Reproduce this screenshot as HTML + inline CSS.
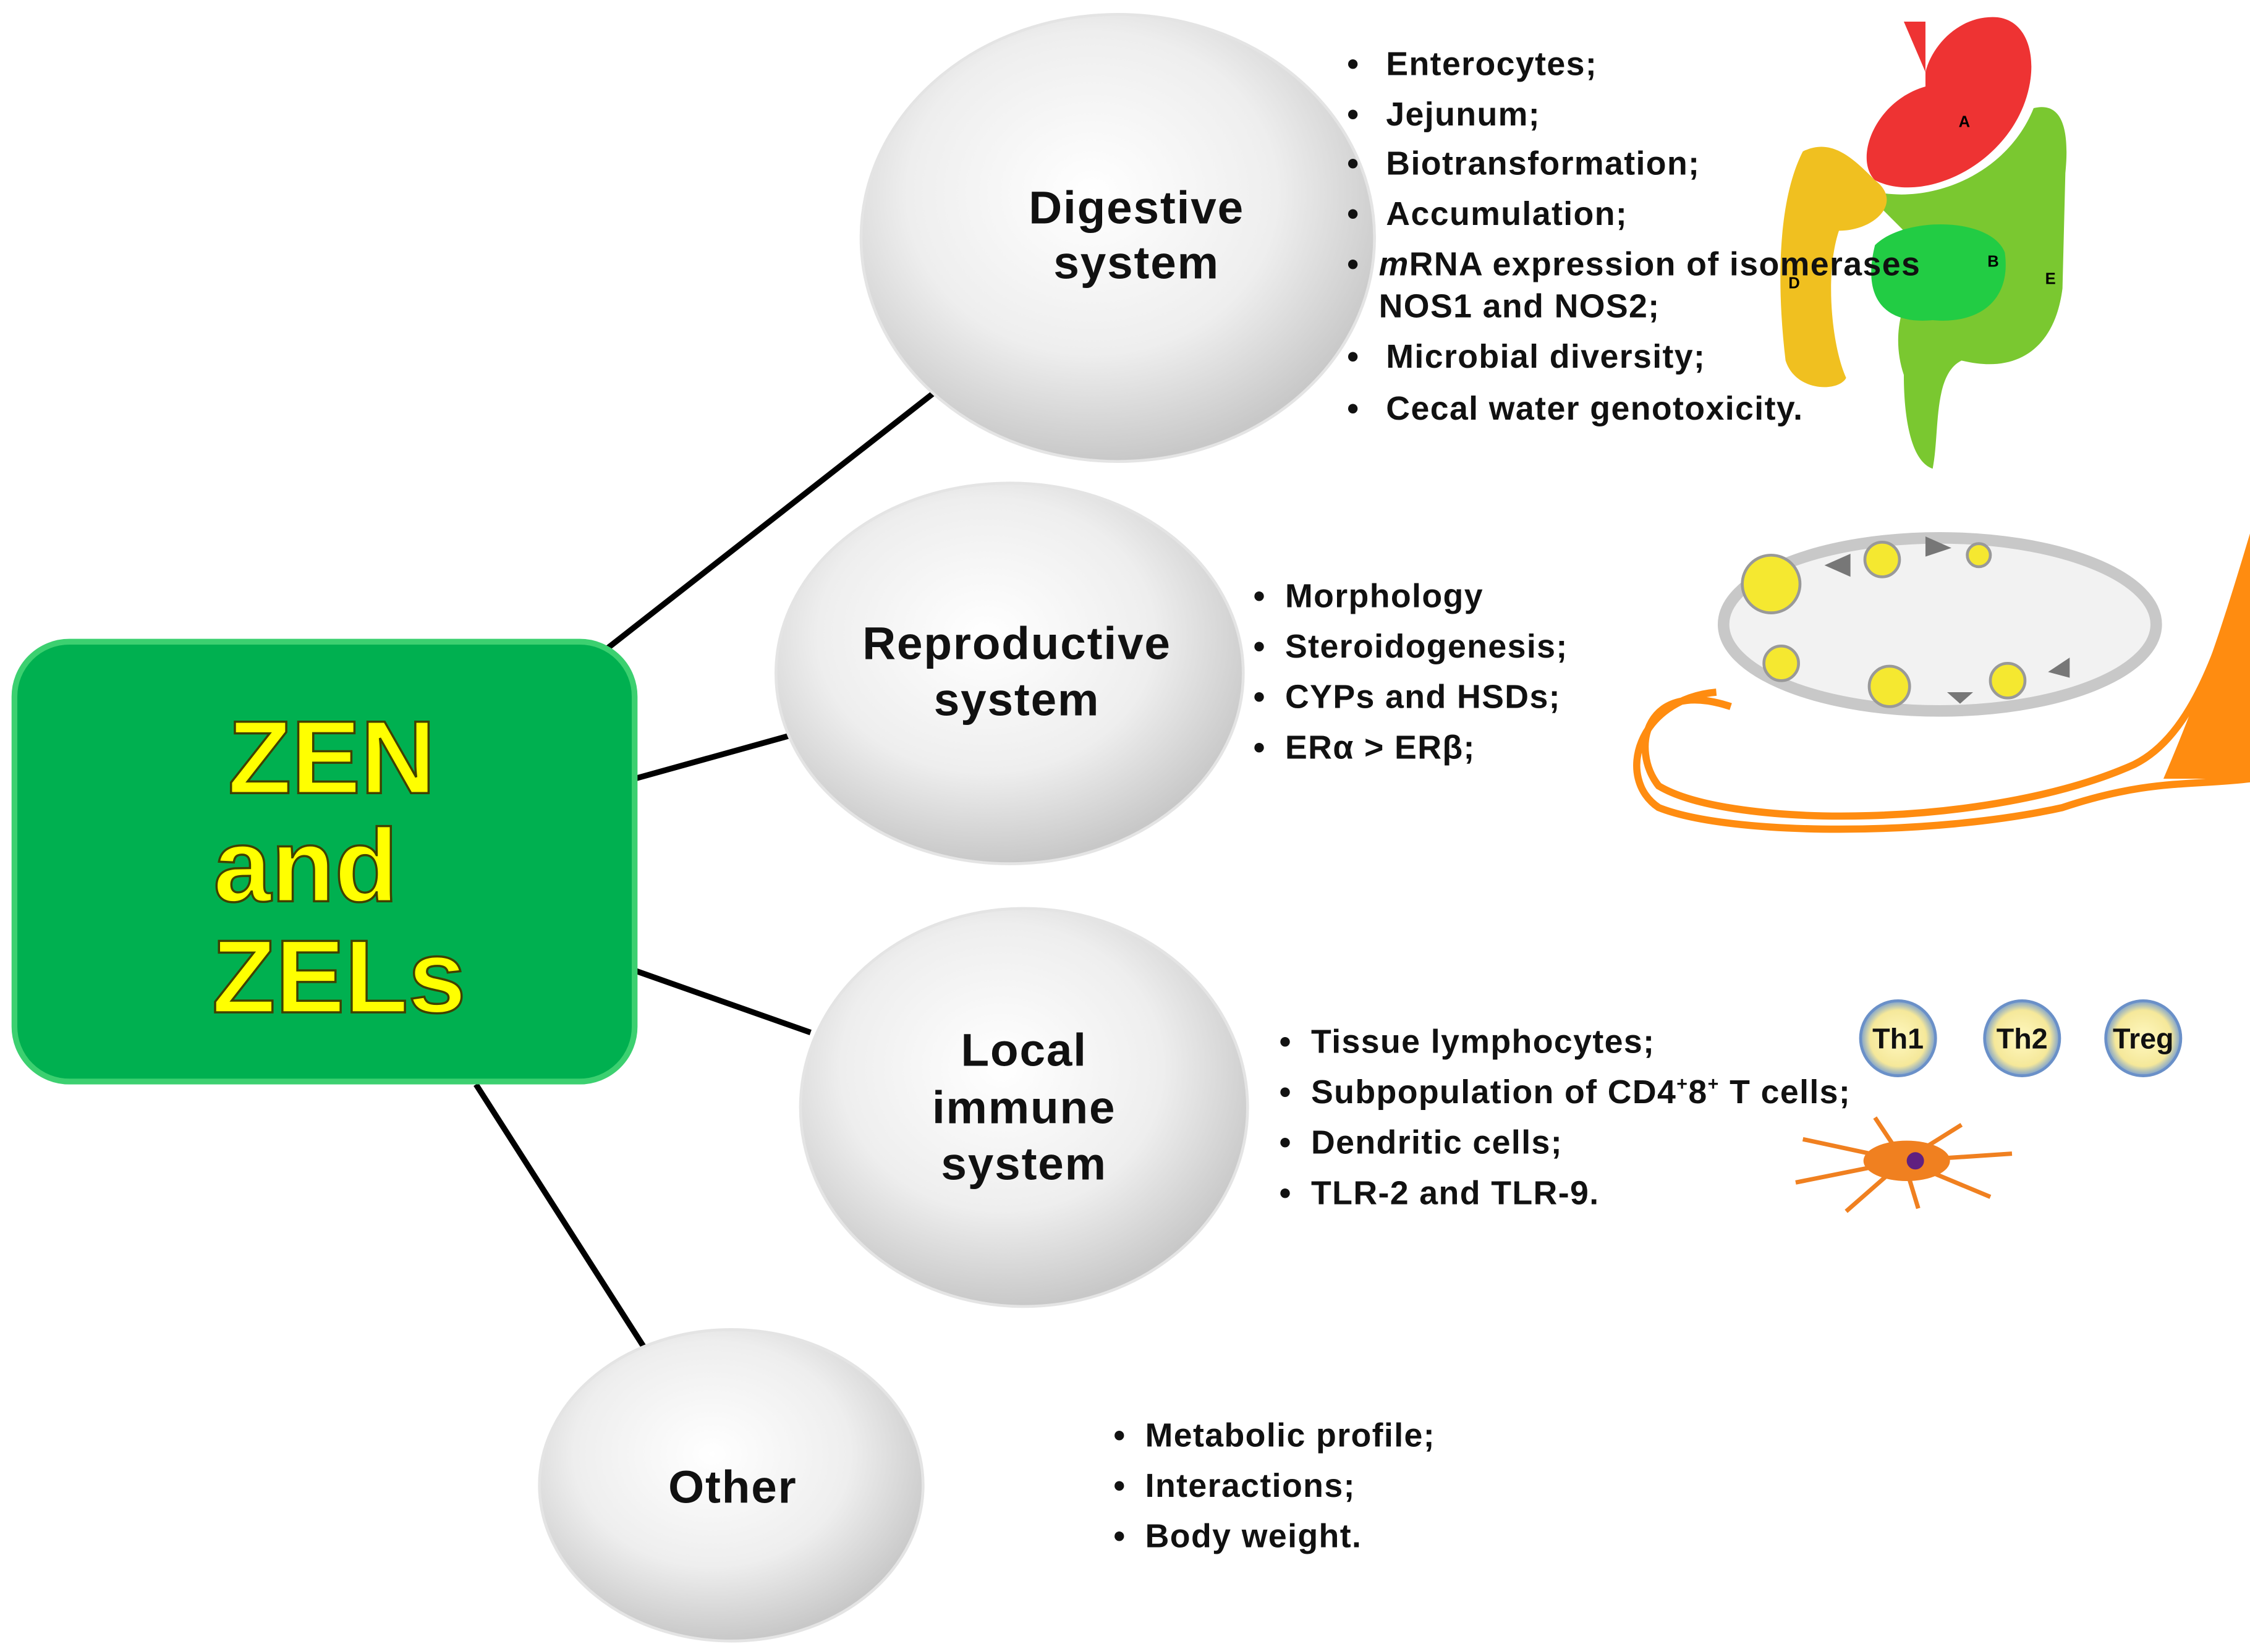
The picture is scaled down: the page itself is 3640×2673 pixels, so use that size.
<!DOCTYPE html>
<html><head><meta charset="utf-8"><style>
html,body{margin:0;padding:0;background:#fff;}
svg{display:block;}
text{font-family:"Liberation Sans",sans-serif;font-weight:bold;}
.l{letter-spacing:0.6px;}
</style></head><body>
<svg width="3640" height="2673" viewBox="0 0 1560 1145.6" xmlns="http://www.w3.org/2000/svg">
<defs>
<radialGradient id="g" cx="0.45" cy="0.4" r="0.6">
<stop offset="0" stop-color="#ffffff"/><stop offset="0.6" stop-color="#eeeeee"/><stop offset="1" stop-color="#c8c8c8"/>
</radialGradient>
<radialGradient id="th" cx="0.5" cy="0.5" r="0.5">
<stop offset="0" stop-color="#fff8c0"/><stop offset="0.75" stop-color="#f5e89a"/><stop offset="1" stop-color="#7aa0d0"/>
</radialGradient>
</defs>
<g stroke="#000" stroke-width="4">
<line x1="418" y1="452" x2="648" y2="272"/>
<line x1="440" y1="540" x2="548" y2="510"/>
<line x1="440" y1="673" x2="562" y2="716"/>
<line x1="330" y1="752" x2="447" y2="935"/>
</g>
<rect x="10" y="445" width="430" height="305" rx="38" fill="#00b050" stroke="#3cd070" stroke-width="4"/>
<g font-size="72" fill="#ffff00" stroke="#404000" stroke-width="1.5" text-anchor="middle">
<text x="230" y="550">ZEN</text>
<text x="212" y="625">and</text>
<text x="235" y="702">ZELs</text>
</g>
<g fill="url(#g)" stroke="#e4e4e4" stroke-width="2">
<ellipse cx="775" cy="165" rx="178" ry="155"/>
<ellipse cx="700" cy="467" rx="162" ry="132"/>
<ellipse cx="710" cy="768" rx="155" ry="138"/>
<ellipse cx="507" cy="1030" rx="133" ry="108"/>
</g>
<g font-size="32" fill="#111" text-anchor="middle" style="letter-spacing:0.8px">
<text x="788" y="155">Digestive</text><text x="788" y="193">system</text>
<text x="705" y="457">Reproductive</text><text x="705" y="496">system</text>
<text x="710" y="739">Local</text><text x="710" y="779">immune</text><text x="710" y="818">system</text>
<text x="508" y="1042">Other</text>
</g>
<path d="M1320 15 L1335 15 L1335 60 C1300 70 1285 110 1300 125 C1330 140 1380 120 1400 80 C1415 50 1410 15 1385 12 C1360 10 1340 30 1335 50 Z" fill="#ee3333"/>
<path d="M1290 130 C1330 145 1390 125 1410 75 C1430 70 1435 90 1432 120 L1430 200 C1425 240 1400 260 1360 250 C1340 260 1345 300 1340 325 C1325 320 1320 290 1320 260 C1310 230 1320 200 1340 180 Z" fill="#7ac830"/>
<path d="M1300 170 C1320 150 1380 150 1390 175 C1395 210 1370 225 1340 222 C1310 225 1290 210 1300 170 Z" fill="#22cc44"/>
<path d="M1250 105 C1270 95 1285 110 1300 125 C1320 140 1300 160 1275 160 C1265 190 1270 240 1280 262 C1275 272 1245 272 1238 250 C1232 200 1232 140 1250 105 Z" fill="#f0c020"/>
<g font-size="11" fill="#000"><text x="1358" y="88">A</text><text x="1378" y="185">B</text><text x="1240" y="200">D</text><text x="1418" y="197">E</text></g>
<g font-size="23" fill="#111" class="l">
<text x="934" y="52">•</text><text x="961" y="52">Enterocytes;</text>
<text x="934" y="87">•</text><text x="961" y="87">Jejunum;</text>
<text x="934" y="121">•</text><text x="961" y="121">Biotransformation;</text>
<text x="934" y="156">•</text><text x="961" y="156">Accumulation;</text>
<text x="934" y="191">•</text><text x="956" y="191"><tspan font-style="italic">m</tspan>RNA expression of isomerases</text>
<text x="956" y="220">NOS1 and NOS2;</text>
<text x="934" y="255">•</text><text x="961" y="255">Microbial diversity;</text>
<text x="934" y="291">•</text><text x="961" y="291">Cecal water genotoxicity.</text>
</g>
<ellipse cx="1345" cy="433" rx="150" ry="60" fill="#f2f2f2" stroke="#c8c8c8" stroke-width="8"/>
<path d="M1200 490 C1140 470 1130 520 1150 545 C1200 575 1380 575 1480 530 C1520 510 1540 450 1560 380 L1560 540 C1520 545 1490 540 1430 560 C1340 580 1200 580 1150 560 C1120 540 1135 485 1190 480" fill="none" stroke="#ff8c10" stroke-width="5"/>
<path d="M1500 540 C1530 470 1545 420 1560 370 L1560 540 Z" fill="#ff8c10"/>
<g fill="#f5e830" stroke="#999" stroke-width="2">
<circle cx="1228" cy="405" r="20"/><circle cx="1305" cy="388" r="12"/><circle cx="1372" cy="385" r="8"/>
<circle cx="1235" cy="460" r="12"/><circle cx="1310" cy="476" r="14"/><circle cx="1392" cy="472" r="12"/>
</g>
<g fill="#777"><path d="M1265 392 l18-8 v16z"/><path d="M1335 378 l18-6 v14z" transform="rotate(180 1344 379)"/><path d="M1350 480 l18 0 -9 8z"/><path d="M1420 466 l15-10 v14z"/></g>
<g font-size="23" fill="#111" class="l">
<text x="869" y="421">•</text><text x="891" y="421">Morphology</text>
<text x="869" y="456">•</text><text x="891" y="456">Steroidogenesis;</text>
<text x="869" y="491">•</text><text x="891" y="491">CYPs and HSDs;</text>
<text x="869" y="526">•</text><text x="891" y="526">ERα &gt; ERβ;</text>
</g>
<g fill="url(#th)" stroke="#6a90c8" stroke-width="2">
<circle cx="1316" cy="720" r="26"/><circle cx="1402" cy="720" r="26"/><circle cx="1486" cy="720" r="26"/>
</g>
<g font-size="20" fill="#111" text-anchor="middle">
<text x="1316" y="727">Th1</text><text x="1402" y="727">Th2</text><text x="1486" y="727">Treg</text>
</g>
<g stroke="#f08020" stroke-width="3" fill="none">
<path d="M1320 805 L1250 790 M1320 805 L1245 820 M1320 805 L1280 840 M1320 805 L1360 780 M1320 805 L1395 800 M1320 805 L1380 830 M1320 805 L1330 838 M1320 805 L1300 775"/>
</g>
<ellipse cx="1322" cy="805" rx="30" ry="14" fill="#f08020"/>
<circle cx="1328" cy="805" r="6" fill="#602080"/>
<g font-size="23" fill="#111" class="l">
<text x="887" y="730">•</text><text x="909" y="730">Tissue lymphocytes;</text>
<text x="887" y="765">•</text><text x="909" y="765">Subpopulation of CD4<tspan font-size="13" dy="-9">+</tspan><tspan dy="9">8</tspan><tspan font-size="13" dy="-9">+</tspan><tspan dy="9"> T cells;</tspan></text>
<text x="887" y="800">•</text><text x="909" y="800">Dendritic cells;</text>
<text x="887" y="835">•</text><text x="909" y="835">TLR-2 and TLR-9.</text>
</g>
<g font-size="23" fill="#111" class="l">
<text x="772" y="1003">•</text><text x="794" y="1003">Metabolic profile;</text>
<text x="772" y="1038">•</text><text x="794" y="1038">Interactions;</text>
<text x="772" y="1073">•</text><text x="794" y="1073">Body weight.</text>
</g>
</svg>
</body></html>
